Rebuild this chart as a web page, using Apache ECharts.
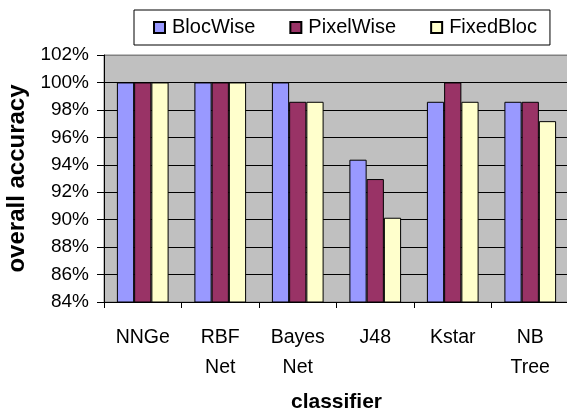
<!DOCTYPE html>
<html>
<head>
<meta charset="utf-8">
<script src="https://cdn.jsdelivr.net/npm/echarts@6/dist/echarts.min.js"></script>
<style>
html,body{margin:0;padding:0;background:#fff;}
#chart{width:567px;height:412px;}
</style>
</head>
<body>
<div id="chart"></div>
<script>
const categories = ['NNGe', 'RBF\nNet', 'Bayes\nNet', 'J48', 'Kstar', 'NB\nTree'];
const seriesNames = ['BlocWise', 'PixelWise', 'FixedBloc'];
const blocWise = [100, 100, 100, 94.37, 98.59, 98.59];
const pixelWise = [100, 100, 98.59, 92.96, 100, 98.59];
const fixedBloc = [100, 100, 98.59, 90.14, 98.59, 97.18];
const yTicks = { min: 84, max: 102, interval: 2 };

const colors = ['#9999FF', '#993366', '#FFFFCC'];
const FONT = "'Liberation Sans', Arial, sans-serif";
const seriesData = [blocWise, pixelWise, fixedBloc];

const chart = echarts.init(document.getElementById('chart'), null, { renderer: 'canvas' });
const gridLineColors = [];
for (let v = yTicks.min; v <= yTicks.max; v += yTicks.interval) {
  gridLineColors.push(v === yTicks.max ? '#808080' : '#000000');
}

chart.setOption({
  animation: false,
  backgroundColor: '#ffffff',
  textStyle: { fontFamily: FONT },
  legend: {
    left: 134,
    top: 10,
    padding: [6, 13, 6, 19],
    itemWidth: 11,
    itemHeight: 11,
    itemGap: 34,
    data: seriesNames,
    borderColor: '#000',
    borderWidth: 1,
    backgroundColor: '#fff',
    textStyle: { fontFamily: FONT, fontSize: 20, color: '#000', lineHeight: 23, padding: [0, 0, 0, 2] },
    icon: 'rect'
  },
  grid: {
    left: 104,
    right: -2,
    top: 55,
    bottom: 110,
    containLabel: false,
    outerBoundsMode: 'none',
    show: true,
    backgroundColor: '#C0C0C0',
    borderColor: '#808080',
    borderWidth: 1
  },
  xAxis: {
    type: 'category',
    data: categories,
    name: 'classifier',
    nameLocation: 'middle',
    nameGap: 90,
    nameTextStyle: { fontFamily: FONT, fontSize: 21, fontWeight: 'bold', color: '#000' },
    axisLine: { show: true, lineStyle: { color: '#000', width: 1 } },
    axisTick: { show: true, length: 6, lineStyle: { color: '#000' } },
    axisLabel: { fontFamily: FONT, fontSize: 19.5, color: '#000', lineHeight: 30, margin: 21, interval: 0 },
    splitLine: { show: false }
  },
  yAxis: {
    type: 'value',
    min: yTicks.min,
    max: yTicks.max,
    interval: yTicks.interval,
    name: 'overall accuracy',
    nameLocation: 'middle',
    nameGap: 75,
    nameTextStyle: { fontFamily: FONT, fontSize: 24, fontWeight: 'bold', color: '#000' },
    axisLine: { show: true, lineStyle: { color: '#000', width: 1 } },
    axisTick: { show: true, length: 7, lineStyle: { color: '#000' } },
    axisLabel: { fontFamily: FONT, fontSize: 19, color: '#000', margin: 15, formatter: '{value}%' },
    splitLine: { show: true, lineStyle: { color: gridLineColors, width: 1 } }
  },
  series: seriesNames.map((name, i) => ({
    name: name,
    type: 'bar',
    data: seriesData[i],
    barGap: '0%',
    barCategoryGap: '33.3%',
    itemStyle: { color: colors[i], borderColor: '#000', borderWidth: 1 }
  }))
});
</script>
</body>
</html>
